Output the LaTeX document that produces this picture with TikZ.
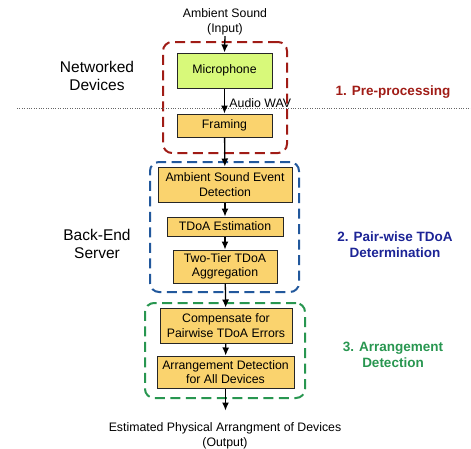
\documentclass[tikz,border=0pt]{standalone}
\usepackage{fontspec}
\setmainfont{Liberation Sans}
\usepackage{xcolor}
\usepackage{tikz}
\usetikzlibrary{arrows.meta}

\definecolor{micgreen}{RGB}{216,249,122}
\definecolor{stepyellow}{RGB}{250,211,110}
\definecolor{prered}{RGB}{160,28,22}
\definecolor{pairblue}{RGB}{34,88,156}
\definecolor{pairtext}{RGB}{28,36,150}
\definecolor{arrgreen}{RGB}{40,150,80}

\begin{document}
\begin{tikzpicture}[x=1pt,y=-1pt,
    every node/.style={font=\fontsize{12.3}{14.5}\selectfont, align=center},
    stepbox/.style={draw=black!85, line width=1pt, fill=stepyellow, inner sep=1pt},
    groupbox/.style={draw, dashed, dash pattern=on 10pt off 5.5pt, line width=2pt,
          rounded corners=9pt, inner sep=0pt},
    sidelabel/.style={font=\fontsize{15.5}{18}\selectfont},
    phaselabel/.style={font=\fontsize{13.5}{16}\selectfont\bfseries},
    flow/.style={-{Latex[length=8pt,width=7pt]}, line width=1.3pt}]
  \useasboundingbox (0,0) rectangle (471,448);

  % phase containers
  \node[groupbox, draw=prered, minimum width=124, minimum height=111] (pre) at (225,97.5) {};
  \node[groupbox, draw=pairblue, minimum width=149, minimum height=130] (pair) at (224.5,227) {};
  \node[groupbox, draw=arrgreen, minimum width=160, minimum height=95] (arr) at (225,350.5) {};

  % device / server split
  \coordinate (split west) at (17,108);
  \coordinate (split east) at (471,108);
  \draw[black!60, line width=.8pt, dash pattern=on .8pt off 1.6pt] (split west) -- (split east);

  \node[inner sep=1pt] (input) at (225,22) {Ambient Sound\\(Input)};
  \node[stepbox, fill=micgreen, minimum width=95, minimum height=35] (mic) at (224.5,70.5) {Microphone};
  \node[stepbox, minimum width=95, minimum height=23] (framing) at (224.5,125.5) {Framing};
  \node[stepbox, minimum width=134, minimum height=35] (ased) at (225,184.5) {Ambient Sound Event\\Detection};
  \node[stepbox, minimum width=116, minimum height=19] (tdoa) at (225,226.5) {TDoA Estimation};
  \node[stepbox, minimum width=104, minimum height=33] (twotier) at (225,266.5) {Two-Tier TDoA\\Aggregation};
  \node[stepbox, minimum width=132, minimum height=35] (comp) at (226,325.5) {Compensate for\\Pairwise TDoA Errors};
  \node[stepbox, minimum width=137, minimum height=32] (adet) at (225.5,372) {Arrangement Detection\\for All Devices};
  \node[inner sep=1pt] (output) at (225,436) {Estimated Physical Arrangment of Devices\\(Output)};

  \node[sidelabel] (devices) at (97,76) {Networked\\Devices};
  \node[sidelabel] (server) at (97,244) {Back-End\\Server};

  \node[phaselabel, text=prered] (p1) at (393,92) {1. Pre-processing};
  \node[phaselabel, text=pairtext] (p2) at (395,245) {2. Pair-wise TDoA\\Determination};
  \node[phaselabel, text=arrgreen] (p3) at (393,355) {3. Arrangement\\Detection};

  \draw[flow] (input.south) -- (mic.north);
  \draw[flow] (mic) -- node[right, xshift=1pt, yshift=-2pt] (wav) {Audio WAV} (framing);
  \draw[flow] (framing) -- (ased);
  \draw[flow] (ased) -- (tdoa);
  \draw[flow] (tdoa) -- (twotier);
  \draw[flow] (twotier) -- (comp);
  \draw[flow] (comp) -- (adet);
  \draw[flow] (adet.south) -- ([yshift=-22pt]adet.south);
\end{tikzpicture}
\end{document}
